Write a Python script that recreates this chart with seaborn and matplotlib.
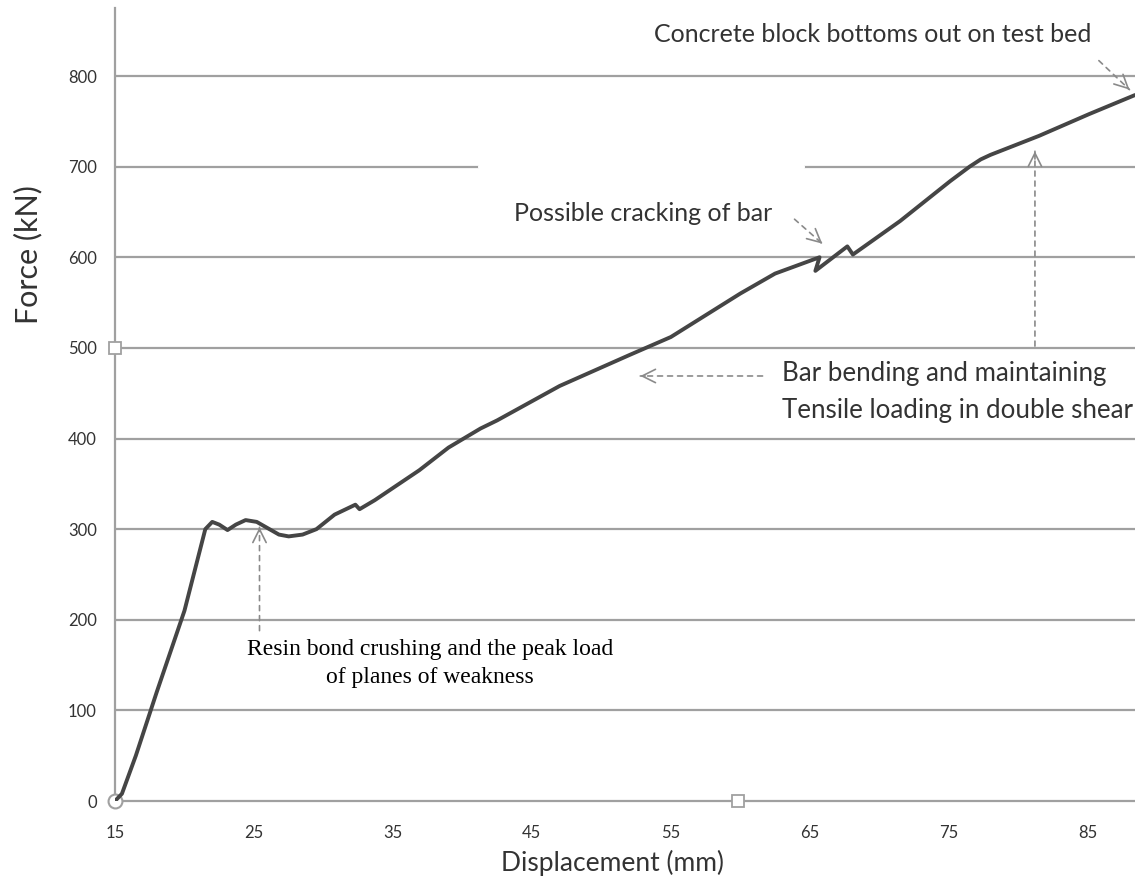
#Import Libraries
import numpy as np
import pandas as pd
import matplotlib
matplotlib.use("Agg")
import matplotlib.pyplot as plt
import seaborn as sns

# Load-displacement data
displacement = [15.0, 15.5, 16.5, 18.0, 20.0, 21.5, 22.0, 22.5, 23.1, 23.7,
                24.4, 25.2, 26.0, 26.8, 27.5, 28.5, 29.5, 30.8, 32.3, 32.6,
                33.7, 36.9, 39.0, 41.3, 42.5, 47.0, 52.0, 55.0, 57.5, 60.0,
                62.5, 65.7, 65.4, 67.7, 68.1, 71.5, 75.1, 76.5, 77.3, 78.0,
                79.0, 81.5, 85.1, 88.4]
force = [0, 8, 50, 120, 210, 300, 308, 305, 299, 305,
         310, 308, 301, 294, 292, 294, 300, 316, 327, 322,
         332, 365, 390, 411, 420, 458, 492, 512, 536, 560,
         582, 600, 585, 612, 603, 640, 684, 700, 708, 713,
         719, 734, 758, 779]

x_ticks = [15, 25, 35, 45, 55, 65, 75, 85]
y_ticks = [0, 100, 200, 300, 400, 500, 600, 700, 800]

df = pd.DataFrame({"Displacement": displacement, "Force": force})

sns.set_style("white")
plt.rcParams['font.family'] = ['Lato', 'DejaVu Sans']

grid_col = "#a0a0a0"
txt_col = "#333333"
arrow_col = "#8a8a8a"

fig = plt.figure(figsize=(11.35, 8.85), dpi=100)
ax = fig.add_axes([0.1013, 0.0949, 0.8987, 0.8960])

# horizontal gridlines
for yv in y_ticks[1:]:
    ax.axhline(yv, color=grid_col, lw=1.6, zorder=1)
# gap in the 700 gridline
ax.plot([41.3, 64.5], [700, 700], color="white", lw=3, zorder=1.5)

sns.lineplot(data=df, x="Displacement", y="Force", sort=False, estimator=None,
             color="#454545", lw=2.8, ax=ax, zorder=3,
             solid_joinstyle="round", solid_capstyle="round")

ax.set_xlim(15, 88.4)
ax.set_ylim(0, 875)
ax.set_xticks(x_ticks)
ax.set_yticks(y_ticks)

for s in ["top", "right"]:
    ax.spines[s].set_visible(False)
for s in ["left", "bottom"]:
    ax.spines[s].set_color(grid_col)
    ax.spines[s].set_linewidth(1.6)
    ax.spines[s].set_zorder(2)
ax.tick_params(axis="both", colors=grid_col, width=1.6,
               labelcolor=txt_col, labelsize=12)
ax.tick_params(axis="y", pad=7, length=6)
ax.tick_params(axis="x", pad=12, length=5)
ax.set_xlabel("Displacement (mm)", fontsize=19, color=txt_col)
ax.set_ylabel("Force (kN)", fontsize=22, color=txt_col)
ax.xaxis.set_label_coords(0.488, -0.062)
ax.yaxis.set_label_coords(-0.0716, 0.689)

# selection handles left over from the spreadsheet
ax.plot([15], [500], marker="s", ms=8, mfc="white", mec=grid_col, mew=1.3,
        clip_on=False, zorder=4)
ax.plot([59.8], [0], marker="s", ms=8, mfc="white", mec=grid_col, mew=1.3,
        clip_on=False, zorder=4)
ax.plot([15], [0], marker="o", ms=10, mfc="white", mec=grid_col, mew=1.5,
        clip_on=False, zorder=2.5)


def dashed_arrow(tip, tail):
    # dashed shaft, solid open head
    ax.annotate("", xy=tip, xytext=tail,
                arrowprops=dict(arrowstyle="-", linestyle=(0, (3, 3)),
                                color=arrow_col, lw=1.2, shrinkA=0, shrinkB=0))
    near = (tip[0] + 0.04 * (tail[0] - tip[0]), tip[1] + 0.04 * (tail[1] - tip[1]))
    ax.annotate("", xy=tip, xytext=near,
                arrowprops=dict(arrowstyle="->", color=arrow_col, lw=1.2,
                                mutation_scale=24, shrinkA=0, shrinkB=0))


# annotations
ax.text(69.5, 846, "Concrete block bottoms out on test bed", fontsize=18,
        color=txt_col, ha="center", va="center")
dashed_arrow((88.0, 785), (85.8, 817))

ax.text(62.3, 648, "Possible cracking of bar", fontsize=18,
        color=txt_col, ha="right", va="center")
dashed_arrow((65.9, 615), (63.9, 642))

ax.text(63.0, 451, "Bar bending and maintaining\nTensile loading in double shear",
        fontsize=18.6, color=txt_col, ha="left", va="center", linespacing=1.62)
dashed_arrow((52.8, 469), (61.6, 469))
dashed_arrow((81.2, 717), (81.2, 502))

ax.text(37.66, 152, "Resin bond crushing and the peak load\nof planes of weakness",
        fontsize=17, color="black", ha="center", va="center",
        family="Liberation Serif", linespacing=1.42)
dashed_arrow((25.4, 302), (25.4, 188))

plt.savefig("out.png", dpi=100)
